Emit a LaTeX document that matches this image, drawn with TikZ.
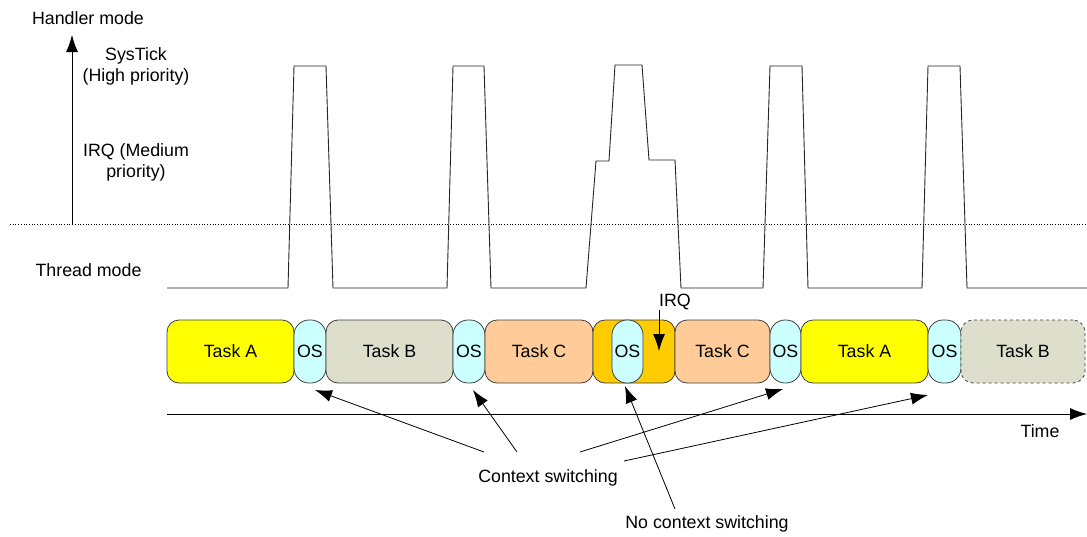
\documentclass[tikz,border=0pt]{standalone}
\usepackage{fontspec}
\setmainfont{Liberation Sans}
\usetikzlibrary{arrows.meta}
\definecolor{taskA}{HTML}{FFFF00}
\definecolor{taskB}{HTML}{DDDFCC}
\definecolor{taskC}{HTML}{FFCC99}
\definecolor{osc}{HTML}{CCFFFF}
\definecolor{irqc}{HTML}{FFCC00}
\definecolor{edge}{HTML}{404040}
\begin{document}
\begin{tikzpicture}[x=1pt,y=-1pt,
  font=\fontsize{17.8}{21}\selectfont,
  box/.style={draw=edge, line width=0.8pt, rounded corners=12pt, minimum height=63pt, inner sep=0pt},
  osbox/.style={box, fill=osc, rounded corners=15pt},
  arr/.style={-{Latex[length=17pt,width=12pt]}, line width=0.8pt},
  wave/.style={line width=0.9pt, draw=black!85},
  lbl/.style={inner sep=0pt, align=center}]
\useasboundingbox (0,0) rectangle (1087,536);

% axis labels
\node[lbl] (handler) at (88,18) {Handler mode};
\node[lbl] (systick) at (136,66) {SysTick\\(High priority)};
\node[lbl] (irqlvl) at (136,162) {IRQ (Medium\\priority)};
\node[lbl] (thread) at (88.5,270) {Thread mode};

\coordinate (hbase) at (72,224);
\coordinate (htop) at (72,35);
\draw[arr] (hbase) -- (htop);

\coordinate (dl) at (10,224);
\coordinate (dr) at (1087,224);
\draw[dotted, line width=0.7pt] (dl) -- (dr);

% waveform
\draw[wave] (167,288) -- (288,288) -- (294,66) -- (326,66) -- (333,288)
  -- (447,288) -- (453,66) -- (484,66) -- (491,288)
  -- (586,288) -- (596,161) -- (609,161) -- (615,65) -- (642,65) -- (649,160) -- (675,160) -- (681,288)
  -- (763,288) -- (770,66) -- (802,66) -- (808,288)
  -- (922,288) -- (928,66) -- (960,66) -- (967,288) -- (1087,288);

% task boxes
\node[box, fill=taskA, minimum width=127pt] (ta1) at (230.5,351.5) {Task A};
\node[osbox, minimum width=32pt] (os1) at (310,351.5) {OS};
\node[box, fill=taskB, minimum width=127pt] (tb1) at (389.5,351.5) {Task B};
\node[osbox, minimum width=32pt] (os2) at (469,351.5) {OS};
\node[box, fill=taskC, minimum width=108pt] (tc1) at (539,351.5) {Task C};
\node[box, fill=irqc, minimum width=82pt] (irq) at (634,351.5) {};
\node[osbox, minimum width=31pt] (os3) at (627.5,351.5) {OS};
\node[box, fill=taskC, minimum width=95pt] (tc2) at (722.5,351.5) {Task C};
\node[osbox, minimum width=31pt] (os4) at (785.5,351.5) {OS};
\node[box, fill=taskA, minimum width=127pt] (ta2) at (864.5,351.5) {Task A};
\node[osbox, minimum width=33pt] (os5) at (944.5,351.5) {OS};
\node[box, fill=taskB, dashed, minimum width=124pt] (tb2) at (1023,351.5) {Task B};

% IRQ arrow
\node[lbl] (irqlbl) at (675,302) {IRQ};
\coordinate (irqs) at (659,310);
\coordinate (irqe) at (659,351);
\draw[arr] (irqs) -- (irqe);

% time axis
\coordinate (t0) at (167,414);
\coordinate (t1) at (1087,414);
\draw[arr] (t0) -- (t1);
\node[lbl] (time) at (1040,431) {Time};

% context switching
\node[lbl] (cs) at (548,478) {Context switching};
\node[lbl] (ncs) at (707,524) {No context switching};
\coordinate (c1) at (484,452);
\coordinate (c2) at (517,452);
\coordinate (c3) at (580,452);
\coordinate (c4) at (624,461);
\coordinate (c5) at (675,509);
\coordinate (p1) at (315,390);
\coordinate (p2) at (473,390);
\coordinate (p3) at (783,389);
\coordinate (p4) at (928,395);
\coordinate (p5) at (625,386);
\draw[arr] (c1) -- (p1);
\draw[arr] (c2) -- (p2);
\draw[arr] (c3) -- (p3);
\draw[arr] (c4) -- (p4);
\draw[arr] (c5) -- (p5);
\end{tikzpicture}
\end{document}
